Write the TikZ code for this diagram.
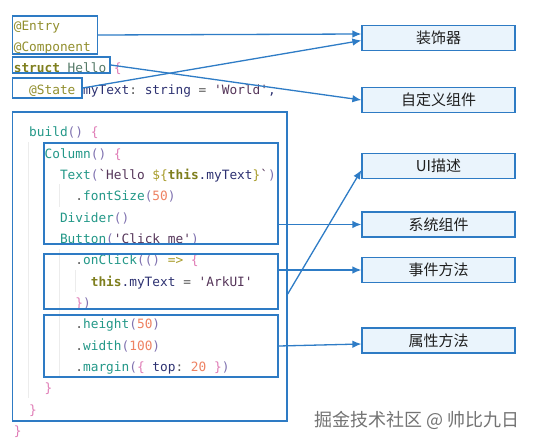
\documentclass[tikz,border=0pt]{standalone}
\usepackage{fontspec}
\setmonofont{DejaVu Sans Mono}
\newfontfamily\cjkfont{Noto Sans CJK SC}
\usepackage{xcolor}
\usetikzlibrary{arrows.meta, calc}

\definecolor{boxBlue}{HTML}{2E7BC4}
\definecolor{lineBlue}{HTML}{2E7CC6}
\definecolor{lblFill}{HTML}{EAF4FC}
\definecolor{guideGray}{HTML}{ECECEC}
\definecolor{cDeco}{HTML}{928F2E}
\definecolor{cKey}{HTML}{7F7F1E}
\definecolor{cType}{HTML}{557A68}
\definecolor{cBrace}{HTML}{E07CB6}
\definecolor{cFun}{HTML}{239888}
\definecolor{cParen}{HTML}{8072B0}
\definecolor{cVar}{HTML}{2E3272}
\definecolor{cStr}{HTML}{56365A}
\definecolor{cNum}{HTML}{EE8262}
\definecolor{cOp}{HTML}{A89C2A}
\definecolor{cPlain}{HTML}{5A5A5A}

\newcommand{\tokDeco}[1]{\textcolor{cDeco}{#1}}
\newcommand{\tokKey}[1]{\textcolor{cKey}{\bfseries #1}}
\newcommand{\tokType}[1]{\textcolor{cType}{#1}}
\newcommand{\tokBrace}[1]{\textcolor{cBrace}{#1}}
\newcommand{\tokFun}[1]{\textcolor{cFun}{#1}}
\newcommand{\tokParen}[1]{\textcolor{cParen}{#1}}
\newcommand{\tokVar}[1]{\textcolor{cVar}{#1}}
\newcommand{\tokStr}[1]{\textcolor{cStr}{#1}}
\newcommand{\tokNum}[1]{\textcolor{cNum}{#1}}
\newcommand{\tokOp}[1]{\textcolor{cOp}{#1}}
\newcommand{\tokPlain}[1]{\textcolor{cPlain}{#1}}

\begin{document}
\begin{tikzpicture}[x=1pt, y=-1pt,
	codeline/.style={anchor=base west, inner sep=0pt, font=\ttfamily\fontsize{12.8}{14}\selectfont},
	codebox/.style={draw=boxBlue, line width=1.4pt, inner sep=0pt},
	lblbox/.style={draw=boxBlue, fill=lblFill, line width=1.2pt, minimum width=153pt, minimum height=25pt, inner sep=0pt, font=\cjkfont\fontsize{15}{17}\selectfont, text=black!88},
	link/.style={draw=lineBlue, line width=1.3pt, -{Latex[length=9pt, width=7.5pt]}}]
\useasboundingbox[fill=white] (0,0) rectangle (535,442);
\pgfmathsetmacro{\xL}{13.6}
\pgfmathsetmacro{\yT}{30}
\pgfmathsetmacro{\charW}{7.7}
\pgfmathsetmacro{\lineH}{21.35}

% Indent guides
\draw[guideGray, line width=1pt] (28,142) -- (28,398);
\draw[guideGray, line width=1pt] (59,184) -- (59,207);
\draw[guideGray, line width=1pt] (59,249) -- (59,377);
\draw[guideGray, line width=1pt] (75,270) -- (75,292);

% Code lines
\node[codeline] (l0) at ({\xL+0*\charW}, {\yT+0*\lineH}) {\tokDeco{@Entry}};
\node[codeline] (l1) at ({\xL+0*\charW}, {\yT+1*\lineH}) {\tokDeco{@Component}};
\node[codeline] (l2) at ({\xL+0*\charW}, {\yT+2*\lineH}) {\tokKey{struct} \tokType{Hello} \tokBrace{\{}};
\node[codeline] (l3) at ({\xL+2*\charW}, {\yT+3*\lineH}) {\tokDeco{@State} \tokVar{myText}\tokPlain{:} \tokVar{string} \tokPlain{=} \tokStr{'World'}\tokVar{,}};
\node[codeline] (l5) at ({\xL+2*\charW}, {\yT+5*\lineH}) {\tokFun{build}\tokParen{()} \tokBrace{\{}};
\node[codeline] (l6) at ({\xL+4*\charW}, {\yT+6*\lineH}) {\tokFun{Column}\tokParen{()} \tokBrace{\{}};
\node[codeline] (l7) at ({\xL+6*\charW}, {\yT+7*\lineH}) {\tokFun{Text}\tokParen{(}\tokStr{`Hello }\tokOp{\$\{}\tokKey{this}\tokVar{.myText}\tokOp{\}}\tokStr{`}\tokParen{)}};
\node[codeline] (l8) at ({\xL+8*\charW}, {\yT+8*\lineH}) {\tokPlain{.}\tokFun{fontSize}\tokParen{(}\tokNum{50}\tokParen{)}};
\node[codeline] (l9) at ({\xL+6*\charW}, {\yT+9*\lineH}) {\tokFun{Divider}\tokParen{()}};
\node[codeline] (l10) at ({\xL+6*\charW}, {\yT+10*\lineH}) {\tokFun{Button}\tokParen{(}\tokStr{'Click me'}\tokParen{)}};
\node[codeline] (l11) at ({\xL+8*\charW}, {\yT+11*\lineH}) {\tokPlain{.}\tokFun{onClick}\tokParen{(()} \tokOp{=>} \tokBrace{\{}};
\node[codeline] (l12) at ({\xL+10*\charW}, {\yT+12*\lineH}) {\tokKey{this}\tokVar{.myText} \tokPlain{=} \tokStr{'ArkUI'}};
\node[codeline] (l13) at ({\xL+8*\charW}, {\yT+13*\lineH}) {\tokBrace{\}}\tokParen{)}};
\node[codeline] (l14) at ({\xL+8*\charW}, {\yT+14*\lineH}) {\tokPlain{.}\tokFun{height}\tokParen{(}\tokNum{50}\tokParen{)}};
\node[codeline] (l15) at ({\xL+8*\charW}, {\yT+15*\lineH}) {\tokPlain{.}\tokFun{width}\tokParen{(}\tokNum{100}\tokParen{)}};
\node[codeline] (l16) at ({\xL+8*\charW}, {\yT+16*\lineH}) {\tokPlain{.}\tokFun{margin}\tokParen{(}\tokBrace{\{} \tokVar{top}\tokPlain{:} \tokNum{20} \tokBrace{\}}\tokParen{)}};
\node[codeline] (l17) at ({\xL+4*\charW}, {\yT+17*\lineH}) {\tokBrace{\}}};
\node[codeline] (l18) at ({\xL+2*\charW}, {\yT+18*\lineH}) {\tokBrace{\}}};
\node[codeline] (l19) at ({\xL+0*\charW}, {\yT+19*\lineH}) {\tokBrace{\}}};

% Boxes round the code
\node[codebox, minimum width=85pt, minimum height=38pt] (decoBox) at (55,35) {};
\node[codebox, minimum width=97.5pt, minimum height=16pt] (structBox) at (61.25,65) {};
\node[codebox, minimum width=69.5pt, minimum height=20pt] (stateBox) at (47.25,88) {};
\node[codebox, minimum width=274.5pt, minimum height=309pt] (buildBox) at (149.75,266.5) {};
\node[codebox, minimum width=234pt, minimum height=101pt] (columnBox) at (161,193.5) {};
\node[codebox, minimum width=234pt, minimum height=55pt] (clickBox) at (161,281.5) {};
\node[codebox, minimum width=234pt, minimum height=62pt] (attrBox) at (161,346) {};

% Labels
\node[lblbox] (decoLbl) at (438.5,38) {装饰器};
\node[lblbox] (compLbl) at (438.5,100) {自定义组件};
\node[lblbox] (uiLbl) at (438.5,166) {UI描述};
\node[lblbox] (sysLbl) at (438.5,224.5) {系统组件};
\node[lblbox] (eventLbl) at (438.5,270) {事件方法};
\node[lblbox] (attrLbl) at (438.5,340.5) {属性方法};

% Arrows
\draw[link] (decoBox.east) -- ([yshift=4pt]decoLbl.west);
\draw[link] (stateBox.east) -- ([yshift=-2.5pt]decoLbl.west);
\draw[link] (structBox.east) -- (compLbl.west);
\draw[link] ([yshift=-27.5pt]buildBox.east) -- ([yshift=-4pt]uiLbl.west);
\draw[link] (columnBox.east |- sysLbl.west) -- (sysLbl.west);
\draw[link] (clickBox.east |- eventLbl.west) -- (eventLbl.west);
\draw[link] (attrBox.east) -- ([yshift=-3.5pt]attrLbl.west);

% Watermark
\node[font=\cjkfont\fontsize{18}{20}\selectfont, text=black!55, inner sep=0pt] (mark) at (417,420) {掘金技术社区 @ 帅比九日};
\end{tikzpicture}
\end{document}
